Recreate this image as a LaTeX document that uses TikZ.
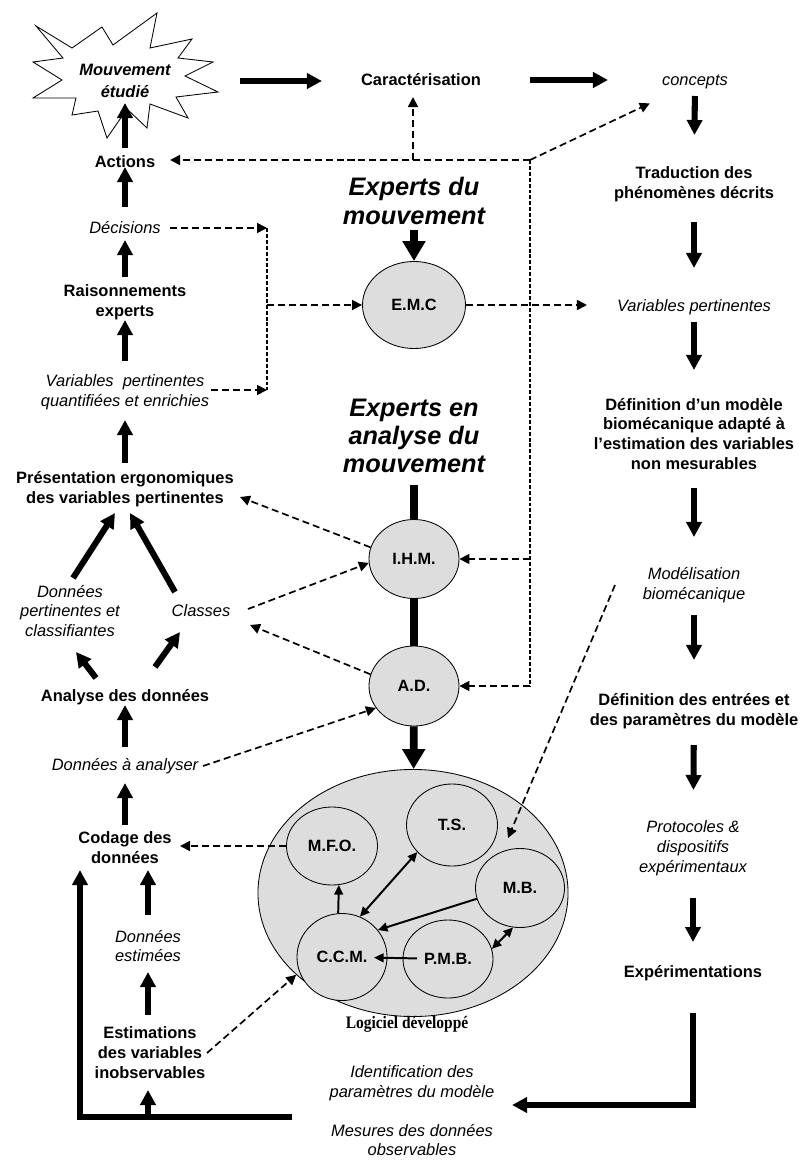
\documentclass[tikz,border=0pt]{standalone}
\usepackage{fontspec}
\setmainfont{Liberation Sans}
\newfontfamily\wordart{Liberation Serif}
\usetikzlibrary{positioning, arrows.meta, shapes.geometric, calc}
\definecolor{ink}{HTML}{000000}
\definecolor{fond}{HTML}{DDDDDD}
\tikzset{
  etape/.style    = {font=\fontsize{11.7}{14.2}\selectfont\bfseries, align=center, inner sep=0pt},
  titre/.style    = {font=\fontsize{11.7}{15.5}\selectfont\bfseries\itshape, align=center, inner sep=0pt},
  donnee/.style   = {font=\fontsize{11.7}{14.2}\selectfont\itshape, align=center, inner sep=0pt},
  expert/.style   = {font=\fontsize{18}{20}\selectfont\bfseries\itshape, align=center, inner sep=0pt},
  module/.style   = {ellipse, draw=ink, line width=0.6pt, fill=fond, inner sep=0pt,
                     minimum width=2.25cm, minimum height=1.975cm,
                     font=\fontsize{11.6}{13}\selectfont\bfseries},
  ar/.style       = {-{Triangle[length=0.375cm,width=0.375cm]}, line width=4.3pt, draw=ink},
  gar/.style      = {-{Triangle[length=0.5cm,width=0.55cm]}, line width=5.5pt, draw=ink},
  trait/.style    = {line width=5pt, draw=ink},
  dar/.style      = {-{Triangle[length=0.25cm,width=0.25cm]}, line width=1.2pt, draw=ink,
                     dash pattern=on 5pt off 2.8pt},
  pointille/.style= {line width=1.1pt, draw=ink, dash pattern=on 2.8pt off 1.4pt},
  fl/.style       = {-{Triangle[length=0.24cm,width=0.22cm]}, line width=1.4pt, draw=ink},
  dfl/.style      = {{Triangle[length=0.24cm,width=0.22cm]}-{Triangle[length=0.24cm,width=0.22cm]},
                     line width=1.4pt, draw=ink},
}

\begin{document}
\begin{tikzpicture}[x=0.025cm, y=-0.025cm]
  \useasboundingbox (0,0) rectangle (801,1163);

  % ----- etoile -----
  \draw[ink, line width=0.6pt, fill=white]
    (36,26) -- (72,48) -- (102,27) -- (113,45) -- (157,13) -- (150,48) -- (192,39)
    -- (178,58) -- (213,62) -- (185,76) -- (218,92) -- (176,97) -- (188,118)
    -- (150,104) -- (147,128) -- (127,109) -- (107,138) -- (98,111) -- (72,115)
    -- (76,98) -- (33,98) -- (62,80) -- (33,62) -- (63,58) -- cycle;

  % ----- colonne droite -----
  \node[titre]  (mvt)      at (125,81)  {Mouvement\\étudié};
  \node[etape]  (carac)    at (421,80)  {Caractérisation};
  \node[donnee] (concepts) at (695,82)  {concepts};
  \node[etape]  (trad)     at (694,184) {Traduction des\\phénomènes décrits};
  \node[donnee] (varp)     at (694,307) {Variables pertinentes};
  \node[etape]  (defmod)   at (694,434) {Définition d’un modèle\\biomécanique adapté à\\l’estimation des variables\\non mesurables};
  \node[donnee] (model)    at (694,585) {Modélisation\\biomécanique};
  \node[etape]  (defent)   at (694,711) {Définition des entrées et\\des paramètres du modèle};
  \node[donnee] (proto)    at (693,848) {Protocoles \&\\dispositifs\\expérimentaux};
  \node[etape]  (exper)    at (693,973) {Expérimentations};
  \node[donnee] (ident)    at (412,1083) {Identification des\\paramètres du modèle};
  \node[donnee] (mesures)  at (412,1140) {Mesures des données\\observables};

  % ----- colonne gauche -----
  \node[etape]  (actions)  at (125,162) {Actions};
  \node[donnee] (dec)      at (125,228) {Décisions};
  \node[etape]  (rais)     at (125,302) {Raisonnements\\experts};
  \node[donnee] (varq)     at (125,392) {Variables~ pertinentes\\quantifiées et enrichies};
  \node[etape]  (pres)     at (125,489) {Présentation ergonomiques\\des variables pertinentes};
  \node[donnee] (dpc)      at (70,611)  {Données\\pertinentes et\\classifiantes};
  \node[donnee] (classes)  at (201,611) {Classes};
  \node[etape]  (analyse)  at (125,697) {Analyse des données};
  \node[donnee] (dana)     at (125,766) {Données à analyser};
  \node[etape]  (codage)   at (125,848) {Codage des\\données};
  \node[donnee] (dest)     at (148,946) {Données\\estimées};
  \node[etape]  (estim)    at (150,1053) {Estimations\\des variables\\inobservables};

  % ----- experts et modules -----
  \node[expert] (exp1) at (414,201) {Experts du\\mouvement};
  \node[module, minimum width=2.575cm, minimum height=2.175cm] (emc) at (414,305) {E.M.C};
  \node[expert] (exp2) at (414,436) {Experts en\\analyse du\\mouvement};
  \node[module] (ihm) at (414,559) {I.H.M.};
  \node[module, minimum height=2cm] (ad) at (414,686) {A.D.};

  % ----- logiciel -----
  \node[ellipse, draw=ink, line width=0.6pt, fill=fond,
        minimum width=7.75cm, minimum height=6.175cm] (logi) at (413,893) {};
  \node[module, minimum width=2.275cm, minimum height=1.95cm]  (mfo) at (332,846) {M.F.O.};
  \node[module, minimum width=2.275cm, minimum height=2.05cm]  (ts)  at (452,825) {T.S.};
  \node[module, minimum width=2.225cm]                         (mb)  at (520,888) {M.B.};
  \node[module, minimum height=2.175cm]                        (ccm) at (342,957) {C.C.M.};
  \node[module, minimum height=1.95cm]                         (pmb) at (448,959) {P.M.B.};
  \node[font=\wordart\bfseries\fontsize{12.5}{14}\selectfont, inner sep=0pt] (logilab)
    at (407,1024) {\scalebox{0.88}[1]{Logiciel développé}};

  % ----- fleches pleines -----
  \draw[ar, shorten <=2.875cm, shorten >=2.475cm] (mvt.center) -- (mvt.center -| carac.center);
  \draw[ar, shorten <=2.725cm, shorten >=2.175cm] (carac.center) -- (carac.center -| concepts.center);
  \draw[ar, shorten <=0.35cm,  shorten >=1.225cm] (concepts.center) -- (trad.center);
  \draw[ar, shorten <=0.95cm,  shorten >=0.975cm] (trad.center) -- (varp.center);
  \draw[ar, shorten <=0.375cm, shorten >=1.6cm]   (varp.center) -- (defmod.center);
  \draw[ar, shorten <=1.35cm,  shorten >=1.2cm]   (defmod.center) -- (model.center);
  \draw[ar, shorten <=0.75cm,  shorten >=1.275cm] (model.center) -- (defent.center);
  \draw[ar, shorten <=0.85cm,  shorten >=1.45cm]  (defent.center) -- (proto.center);
  \draw[ar, shorten <=1.25cm,  shorten >=0.775cm] (proto.center) -- (exper.center);
  \coordinate (coude) at (693,1105);
  \draw[ar, shorten <=1cm, shorten >=2.5cm] (exper.center) -- (coude) -- (coude -| ident.center);

  \draw[ar, shorten <=0.35cm,  shorten >=0.55cm]  (actions.center) -- (mvt.center);
  \draw[ar, shorten <=0.525cm, shorten >=0.125cm] (dec.center) -- (actions.center);
  \draw[ar, shorten <=0.625cm, shorten >=0.3cm]   (rais.center) -- (dec.center);
  \draw[ar, shorten <=0.775cm, shorten >=0.45cm]  (varq.center) -- (rais.center);
  \draw[ar, shorten <=0.65cm,  shorten >=0.7cm]   (pres.center) -- (varq.center);
  \draw[ar] ($(dpc.center)+(3,-33)$) -- ($(pres.center)+(-10,24)$);
  \draw[ar] ($(classes.center)+(-26,-19)$) -- ($(pres.center)+(5,24)$);
  \draw[ar] ($(analyse.center)+(-29,-19)$) -- ($(dpc.center)+(6,41)$);
  \draw[ar] ($(analyse.center)+(30,-30)$) -- ($(classes.center)+(-21,21)$);
  \draw[ar, shorten <=0.475cm, shorten >=0.2cm]  (dana.center) -- (analyse.center);
  \draw[ar, shorten <=0.575cm, shorten >=0.425cm] (codage.center) -- (dana.center);
  \draw[ar, shorten <=0.775cm, shorten >=0.55cm]  (dest.center) -- (dest.center |- codage.center);
  \draw[ar, shorten <=0.95cm,  shorten >=0.65cm]  (dest.center |- estim.center) -- (dest.center);
  \coordinate (mesg) at (292,1117);
  \coordinate (boucle) at (80,1117);
  \draw[ar, shorten >=0.55cm] (mesg) -- (boucle) -- (boucle |- codage.center);
  \draw[ar, shorten >=0.925cm] (dest.center |- mesg) -- (dest.center |- estim.center);

  \draw[gar, shorten <=0.725cm] (exp1.center) -- (emc);
  \draw[trait, shorten <=1.225cm] (exp2.center) -- (ihm);
  \draw[trait] (ihm) -- (ad);
  \draw[gar] (ad) -- (logi);

  % ----- fleches pointillees -----
  \coordinate (jn) at (530,160);
  \coordinate (jc) at (413,160);
  \draw[dar, shorten >=1.125cm] (jn) -- (jn -| actions.center);
  \draw[dar, shorten >=0.425cm] (jc) -- (jc |- carac.center);
  \draw[dar, shorten >=1.25cm] (jn) -- (concepts.center);
  \draw[pointille] (jn) -- (jn |- ad.center);
  \draw[dar] (jn |- ihm.center) -- (ihm);
  \draw[dar] (jn |- ad.center) -- (ad);

  \coordinate (jh) at (267,228);
  \coordinate (jb) at (267,390);
  \draw[dar, shorten <=1.125cm] (dec.center) -- (jh);
  \draw[dar, shorten <=2.15cm] (varq.center |- jb) -- (jb);
  \draw[pointille] (jh) -- (jb);
  \draw[dar] (jh |- emc.center) -- (emc);
  \draw[dar, shorten >=2.675cm] (emc) -- (emc -| varp.center);

  \draw[dar] (ihm.165) -- ($(pres.center)+(115,8)$);
  \draw[dar] ($(classes.center)+(47,-2)$) -- (ihm.185);
  \draw[dar] (ad.165) -- ($(classes.center)+(49,14)$);
  \draw[dar] ($(dana.center)+(78,0)$) -- (ad.210);
  \draw[dar, shorten >=1.375cm] (mfo.west) -- (mfo.west -| codage.center);
  \draw[dar] ($(estim.center)+(57,0)$) -- (logi.215);
  \draw[dar] ($(model.center)+(-79,0)$) -- ($(mb.center)+(-12,-50)$);

  % ----- liens internes -----
  \draw[fl]  (ccm.95) -- (mfo.-80);
  \draw[dfl] (ccm.66) -- (ts.218);
  \draw[fl]  (mb.194) -- (ccm.37);
  \draw[fl, shorten <=0.775cm, shorten >=0.8cm] (pmb.center) -- (ccm.center);
  \draw[dfl] (mb.260) -- (pmb.13);

\end{tikzpicture}
\end{document}
